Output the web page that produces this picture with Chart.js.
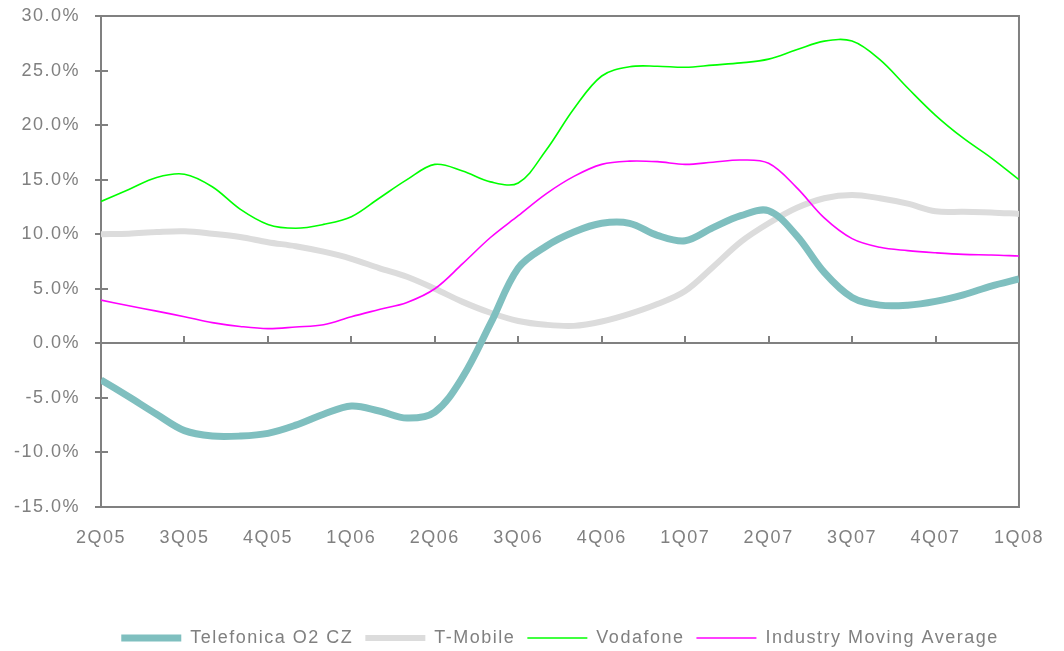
<!DOCTYPE html>
<html>
<head>
<meta charset="utf-8">
<script src="https://cdn.jsdelivr.net/npm/chart.js@4.4.1/dist/chart.umd.min.js"></script>
<style>
  html, body { margin: 0; padding: 0; background: #fff; }
  #wrap { width: 1064px; height: 651px; }
</style>
</head>
<body>
<div id="wrap"><canvas id="chart"></canvas></div>
<script>
// month index 0..33, quarter labels every 3 months
const quarterLabels = ['2Q05', '3Q05', '4Q05', '1Q06', '2Q06', '3Q06', '4Q06', '1Q07', '2Q07', '3Q07', '4Q07', '1Q08'];
const months = [0, 1, 2, 3, 4, 5, 6, 7, 8, 9, 10, 11, 12, 13, 14, 15, 16, 17, 18, 19, 20, 21, 22, 23, 24, 25, 26, 27, 28, 29, 30, 31, 32, 33];

const telefonica = [-3.35, -4.9, -6.5, -8.0, -8.5, -8.5, -8.25, -7.5, -6.5, -5.75, -6.2, -6.85,
  -6.3, -3.1, 1.8, 6.9, 8.9, 10.2, 11.0, 11.0, 9.9, 9.4, 10.6, 11.7,
  12.15, 9.9, 6.5, 4.2, 3.5, 3.5, 3.85, 4.45, 5.25, 5.9];
const tmobile = [10.0, 10.05, 10.2, 10.27, 10.05, 9.75, 9.27, 8.9, 8.4, 7.75, 6.9, 6.1,
  5.0, 3.8, 2.8, 2.05, 1.7, 1.6, 2.0, 2.7, 3.6, 4.8, 7.0, 9.3,
  11.0, 12.4, 13.3, 13.6, 13.3, 12.8, 12.1, 12.05, 12.0, 11.86];
const vodafone = [13.0, 14.1, 15.2, 15.5, 14.35, 12.3, 10.9, 10.55, 10.9, 11.6, 13.3, 15.0,
  16.4, 15.8, 14.8, 14.7, 17.7, 21.5, 24.5, 25.35, 25.4, 25.3, 25.5, 25.7,
  26.05, 26.9, 27.7, 27.7, 26.0, 23.4, 20.9, 18.8, 17.0, 15.0];
const industry = [3.96, 3.45, 2.95, 2.44, 1.9, 1.55, 1.35, 1.5, 1.7, 2.44, 3.1, 3.75,
  5.0, 7.3, 9.7, 11.7, 13.7, 15.3, 16.4, 16.7, 16.65, 16.4, 16.6, 16.8,
  16.5, 14.3, 11.5, 9.6, 8.8, 8.5, 8.3, 8.15, 8.1, 8.0];

const axisGrey = '#808080';

function pts(vals) {
  return months.map((m, i) => ({ x: m, y: vals[i] }));
}

// spaced-out lettering like the original
const spacing = {
  id: 'spacing',
  beforeLayout(chart) { chart.ctx.letterSpacing = '1.5px'; },
  beforeDraw(chart) { chart.ctx.letterSpacing = '1.5px'; }
};

// frame, zero line and tick marks
const frame = {
  id: 'frame',
  beforeDatasetsDraw(chart) {
    const { ctx, chartArea: a, scales: { x, y } } = chart;
    ctx.save();
    ctx.strokeStyle = axisGrey;
    ctx.lineWidth = 2;
    ctx.strokeRect(a.left, a.top, a.right - a.left, a.bottom - a.top);
    ctx.beginPath();
    for (let v = -15; v <= 30; v += 5) {
      const py = Math.round(y.getPixelForValue(v));
      ctx.moveTo(a.left - 6, py);
      ctx.lineTo(a.left + 7, py);
    }
    const y0 = Math.round(y.getPixelForValue(0));
    ctx.moveTo(a.left, y0);
    ctx.lineTo(a.right, y0);
    for (let q = 1; q < quarterLabels.length; q++) {
      const px = Math.round(x.getPixelForValue(q * 3));
      ctx.moveTo(px, y0 - 7);
      ctx.lineTo(px, y0);
    }
    ctx.stroke();
    ctx.restore();
  }
};

new Chart(document.getElementById('chart'), {
  type: 'line',
  data: {
    datasets: [
      { label: 'Telefonica O2 CZ', data: pts(telefonica), borderColor: '#7fbfbf', backgroundColor: '#7fbfbf', borderWidth: 7, order: 2 },
      { label: 'T-Mobile', data: pts(tmobile), borderColor: '#dcdcdc', backgroundColor: '#dcdcdc', borderWidth: 6, order: 3 },
      { label: 'Vodafone', data: pts(vodafone), borderColor: '#00ff00', backgroundColor: '#00ff00', borderWidth: 1.6, order: 1 },
      { label: 'Industry Moving Average', data: pts(industry), borderColor: '#ff00ff', backgroundColor: '#ff00ff', borderWidth: 1.6, order: 0 }
    ]
  },
  options: {
    responsive: true,
    maintainAspectRatio: false,
    animation: false,
    elements: {
      point: { radius: 0, hoverRadius: 0, pointStyle: 'line' },
      line: { tension: 0.35, borderCapStyle: 'butt' }
    },
    layout: { padding: { top: 16, right: 42, left: 0, bottom: -6 } },
    scales: {
      x: {
        type: 'linear',
        min: 0,
        max: 33,
        grid: { display: false, drawTicks: false },
        border: { display: false },
        afterFit(scale) { scale.height = 110; },
        afterBuildTicks(scale) {
          scale.ticks = quarterLabels.map((l, i) => ({ value: i * 3 }));
        },
        ticks: {
          autoSkip: false,
          maxRotation: 0,
          padding: 20,
          color: axisGrey,
          font: { family: '"Liberation Sans", Arial, sans-serif', size: 18 },
          callback: (v) => quarterLabels[v / 3]
        }
      },
      y: {
        min: -15,
        max: 30,
        grid: { display: false, drawTicks: false },
        border: { display: false },
        afterFit(scale) {
          scale.width = 101;
          scale.paddingTop = 0;
          scale.paddingBottom = 0;
        },
        ticks: {
          stepSize: 5,
          padding: 21,
          color: axisGrey,
          font: { family: '"Liberation Sans", Arial, sans-serif', size: 18 },
          callback: (v) => v.toFixed(1) + '%'
        }
      }
    },
    plugins: {
      tooltip: { enabled: false },
      legend: {
        position: 'bottom',
        fullSize: false,
        labels: {
          usePointStyle: true,
          pointStyleWidth: 60,
          padding: 12,
          color: axisGrey,
          font: { family: '"Liberation Sans", Arial, sans-serif', size: 18 },
          sort: (a, b) => a.datasetIndex - b.datasetIndex
        }
      }
    }
  },
  plugins: [spacing, frame]
});
</script>
</body>
</html>
